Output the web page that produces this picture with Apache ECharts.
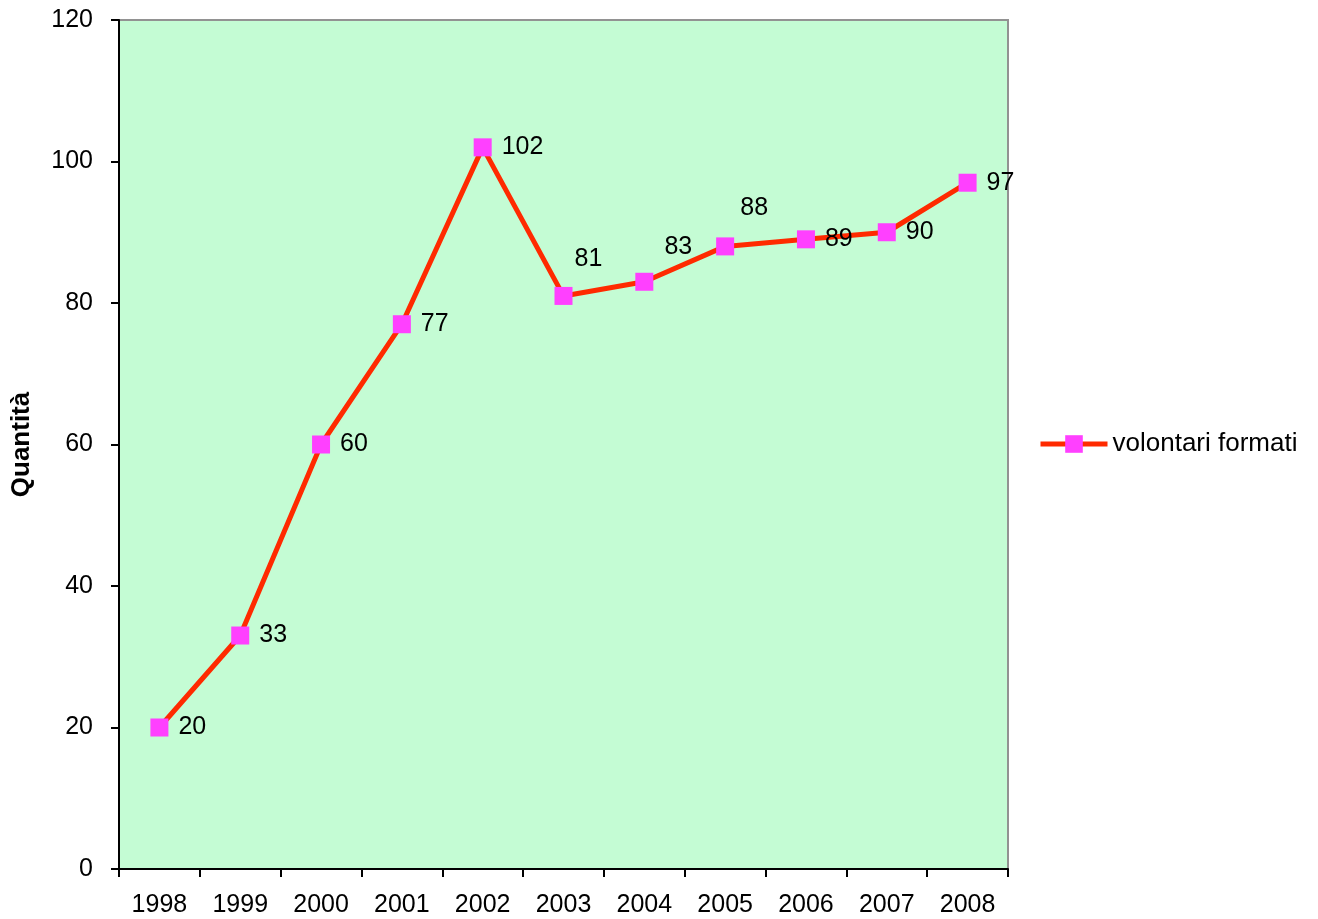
<!DOCTYPE html>
<html><head><meta charset="utf-8">
<script src="https://cdn.jsdelivr.net/npm/echarts@6/dist/echarts.min.js"></script>
<style>html,body{margin:0;padding:0;background:#fff}#c{width:1318px;height:919px}</style>
</head><body><div id="c"></div>
<script>
var years = ['1998','1999','2000','2001','2002','2003','2004','2005','2006','2007','2008'];
var values = [20, 33, 60, 77, 102, 81, 83, 88, 89, 90, 97];
var seriesName = 'volontari formati';
var yTicks = {min: 0, max: 120, interval: 20};
var labelSpecial = {5: [34, -28], 6: [43, -26], 7: [38, -29]};

var data = values.map(function (v, i) {
  var item = {value: v};
  if (labelSpecial[i]) {
    item.label = {position: labelSpecial[i], align: 'center', verticalAlign: 'middle'};
  }
  return item;
});

var chart = echarts.init(document.getElementById('c'));
chart.setOption({
  animation: false,
  textStyle: {fontFamily: 'Liberation Sans, Arial, sans-serif'},
  grid: {left: 119, right: 310, top: 20, bottom: 50, show: true,
    backgroundColor: '#C4FCD4', borderColor: '#929292', borderWidth: 2},
  xAxis: {
    type: 'category', data: years, boundaryGap: true,
    axisLine: {lineStyle: {color: '#000', width: 2}},
    axisTick: {show: true, length: 8, lineStyle: {color: '#000', width: 2}, alignWithLabel: false},
    axisLabel: {color: '#000', fontSize: 25, margin: 24, interval: 0}
  },
  yAxis: {
    type: 'value', min: yTicks.min, max: yTicks.max, interval: yTicks.interval,
    name: 'Quantità', nameLocation: 'middle', nameGap: 84,
    nameTextStyle: {color: '#000', fontSize: 26, fontWeight: 'bold'},
    axisLine: {show: true, lineStyle: {color: '#000', width: 2}},
    axisTick: {show: true, length: 8, lineStyle: {color: '#000', width: 2}},
    axisLabel: {color: '#000', fontSize: 25, margin: 26},
    splitLine: {show: false}
  },
  legend: {
    show: true, orient: 'vertical', left: 1033, top: 426,
    itemWidth: 67, itemHeight: 22, itemGap: 5,
    lineStyle: {width: 5},
    textStyle: {color: '#000', fontSize: 26},
    data: [seriesName]
  },
  series: [{
    name: seriesName, type: 'line', data: data,
    symbol: 'rect', symbolSize: 18,
    lineStyle: {color: '#FF2A00', width: 5},
    itemStyle: {color: '#FF40FF', borderWidth: 0},
    label: {show: true, position: 'right', distance: 10, color: '#000', fontSize: 25}
  }]
});
</script></body></html>
